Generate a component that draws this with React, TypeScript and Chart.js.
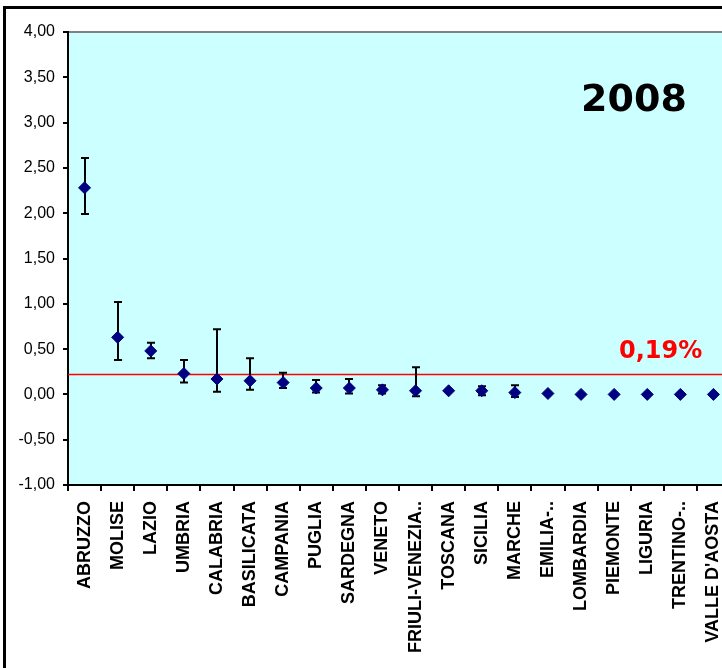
import React, { useEffect, useRef } from "react";
import { Chart, registerables } from "chart.js";

Chart.register(...registerables);

const regions = [
  "ABRUZZO", "MOLISE", "LAZIO", "UMBRIA", "CALABRIA", "BASILICATA", "CAMPANIA",
  "PUGLIA", "SARDEGNA", "VENETO", "FRIULI-VENEZIA..", "TOSCANA", "SICILIA",
  "MARCHE", "EMILIA-..", "LOMBARDIA", "PIEMONTE", "LIGURIA", "TRENTINO-..", "VALLE D'AOSTA",
];
const values = [2.28, 0.63, 0.48, 0.23, 0.17, 0.15, 0.13, 0.07, 0.07, 0.05, 0.04, 0.04, 0.04, 0.02, 0.01, 0.0, 0.0, 0.0, 0.0, 0.0];
const upperBounds = [2.61, 1.02, 0.57, 0.38, 0.72, 0.40, 0.24, 0.16, 0.17, 0.10, 0.30, 0.04, 0.09, 0.10, 0.01, 0.0, 0.0, 0.0, 0.0, 0.0];
const lowerBounds = [1.99, 0.38, 0.40, 0.13, 0.03, 0.05, 0.07, 0.02, 0.01, 0.01, -0.02, 0.04, -0.01, -0.03, 0.01, 0.0, 0.0, 0.0, 0.0, 0.0];
const yMin = -1;
const yMax = 4;
const yStep = 0.5;
const referenceValue = 0.22;
const referenceLabel = "0,19%";
const yearLabel = "2008";

const CANVAS_W = 760;
const CANVAS_H = 668;

const decorPlugin = {
  id: "decor",
  beforeDraw(chart: any) {
    const { ctx, chartArea: a } = chart;
    ctx.save();
    ctx.fillStyle = "#FFFFFF";
    ctx.fillRect(0, 0, chart.width, chart.height);
    ctx.fillStyle = "#CCFFFF";
    ctx.fillRect(a.left, a.top, a.right - a.left, a.bottom - a.top);
    ctx.strokeStyle = "#000000";
    ctx.lineWidth = 3;
    ctx.beginPath();
    ctx.moveTo(4.5, chart.height + 2);
    ctx.lineTo(4.5, 7.5);
    ctx.lineTo(chart.width + 2, 7.5);
    ctx.stroke();
    ctx.strokeStyle = "#808080";
    ctx.lineWidth = 2;
    ctx.beginPath();
    ctx.moveTo(a.left, a.top);
    ctx.lineTo(a.right, a.top);
    ctx.stroke();
    ctx.restore();
  },
  beforeDatasetsDraw(chart: any) {
    const { ctx, chartArea: a, scales } = chart;
    const xs = scales.x;
    const ys = scales.y;
    ctx.save();
    const ry = ys.getPixelForValue(referenceValue);
    ctx.strokeStyle = "#FF0000";
    ctx.lineWidth = 1.5;
    ctx.beginPath();
    ctx.moveTo(a.left, ry);
    ctx.lineTo(a.right, ry);
    ctx.stroke();
    ctx.strokeStyle = "#000000";
    ctx.lineWidth = 2;
    for (let i = 0; i < values.length; i++) {
      const hi = upperBounds[i];
      const lo = lowerBounds[i];
      if (hi - lo < 0.005) continue;
      const x = Math.round(xs.getPixelForValue(i));
      const yt = ys.getPixelForValue(hi);
      const yb = ys.getPixelForValue(lo);
      ctx.beginPath();
      ctx.moveTo(x, yt);
      ctx.lineTo(x, yb);
      ctx.moveTo(x - 4, yt);
      ctx.lineTo(x + 4, yt);
      ctx.moveTo(x - 4, yb);
      ctx.lineTo(x + 4, yb);
      ctx.stroke();
    }
    ctx.restore();
  },
  afterDraw(chart: any) {
    const { ctx, scales } = chart;
    ctx.save();
    ctx.fillStyle = "#000000";
    ctx.font = "bold 38px 'DejaVu Sans'";
    ctx.textAlign = "center";
    ctx.textBaseline = "alphabetic";
    ctx.fillText(yearLabel, 634, 111);
    ctx.fillStyle = "#FF0000";
    ctx.font = "bold 24px 'DejaVu Sans'";
    ctx.textAlign = "left";
    const ry = scales.y.getPixelForValue(referenceValue);
    ctx.fillText(referenceLabel, 619, ry - 16);
    ctx.restore();
  },
};

export default function App() {
  const ref = useRef<HTMLCanvasElement | null>(null);

  useEffect(() => {
    if (!ref.current) return;
    const chart = new Chart(ref.current, {
      type: "line",
      data: {
        labels: regions,
        datasets: [
          {
            data: values,
            showLine: false,
            pointStyle: "rectRot",
            pointRadius: 6,
            pointBorderWidth: 1,
            pointBackgroundColor: "#000080",
            pointBorderColor: "#000080",
          },
        ],
      },
      options: {
        animation: false,
        responsive: false,
        devicePixelRatio: 1,
        layout: { padding: { left: 0, top: 32, right: CANVAS_W - 68 - 662, bottom: 0 } },
        plugins: { legend: { display: false }, tooltip: { enabled: false } },
        scales: {
          x: {
            type: "category",
            offset: true,
            afterFit: (s: any) => {
              s.height = CANVAS_H - 485;
            },
            grid: {
              offset: true,
              drawOnChartArea: false,
              tickLength: 6,
              color: "#000000",
              lineWidth: 2,
            },
            border: { display: true, color: "#000000", width: 2 },
            ticks: {
              autoSkip: false,
              maxRotation: 90,
              minRotation: 90,
              padding: 10,
              color: "#000000",
              font: { family: "'Liberation Sans', Arial, sans-serif", size: 18, weight: "bold" },
            },
          },
          y: {
            min: yMin,
            max: yMax,
            afterFit: (s: any) => {
              s.width = 68;
            },
            grid: {
              drawOnChartArea: false,
              tickLength: 5,
              color: "#000000",
              lineWidth: 2,
            },
            border: { display: true, color: "#000000", width: 2 },
            ticks: {
              stepSize: yStep,
              padding: 8,
              color: "#000000",
              font: { family: "'Liberation Sans', Arial, sans-serif", size: 16 },
              callback: (v: any) => Number(v).toFixed(2).replace(".", ","),
            },
          },
        },
      },
      plugins: [decorPlugin],
    });
    return () => chart.destroy();
  }, []);

  return (
    <div
      style={{
        position: "fixed",
        left: 0,
        top: 0,
        width: 722,
        height: 668,
        overflow: "hidden",
        background: "#FFFFFF",
      }}
    >
      <canvas ref={ref} width={CANVAS_W} height={CANVAS_H} style={{ display: "block" }} />
    </div>
  );
}
